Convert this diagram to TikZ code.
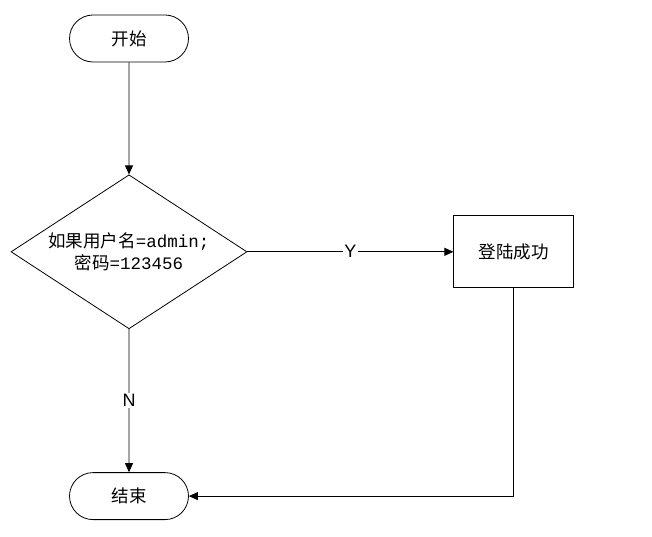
\documentclass[tikz,border=0pt]{standalone}
\usepackage{fontspec}
\setmainfont{Noto Sans CJK SC}
\newfontfamily\latinmono{Liberation Mono}
\newfontfamily\labelfont{Liberation Sans}
\usepackage{tikz}
\usetikzlibrary{arrows.meta,positioning,shapes.geometric,shapes.misc}
\definecolor{ink}{RGB}{0,0,0}
\newcommand{\asc}[1]{{\latinmono #1}}
\tikzset{
  term/.style={rounded rectangle,draw=ink,line width=0.8pt,minimum width=119pt,minimum height=47pt,inner sep=0pt,font=\fontsize{17.5}{20}\selectfont},
  decide/.style={diamond,draw=ink,line width=0.8pt,minimum width=236pt,minimum height=154pt,inner sep=-14pt,align=center,font=\fontsize{17.5}{22}\selectfont},
  proc/.style={rectangle,draw=ink,line width=0.8pt,minimum width=120pt,minimum height=72pt,font=\fontsize{17.5}{20}\selectfont},
  arr/.style={-{Triangle[length=9pt,width=8pt]},draw=ink,line width=0.8pt},
  yn/.style={fill=white,inner sep=1.5pt,font=\labelfont\fontsize{18}{18}\selectfont}
}
\begin{document}
\begin{tikzpicture}
  \useasboundingbox (0pt,0pt) rectangle (652pt,-537pt);
  \node[term] (start) at (129pt,-38.5pt) {开始};
  \node[decide,below=112pt of start] (check) {如果用户名\asc{=admin;}\\密码\asc{=123456}};
  \node[proc,right=206pt of check] (ok) {登陆成功};
  \node[term,below=143pt of check] (stop) {结束};
  \draw[arr] (start)--(check);
  \draw[arr] (check)--node[yn]{Y}(ok);
  \draw[arr] (check)--node[yn]{N}(stop);
  \draw[arr] (ok.south)|-(stop.east);
\end{tikzpicture}
\end{document}
